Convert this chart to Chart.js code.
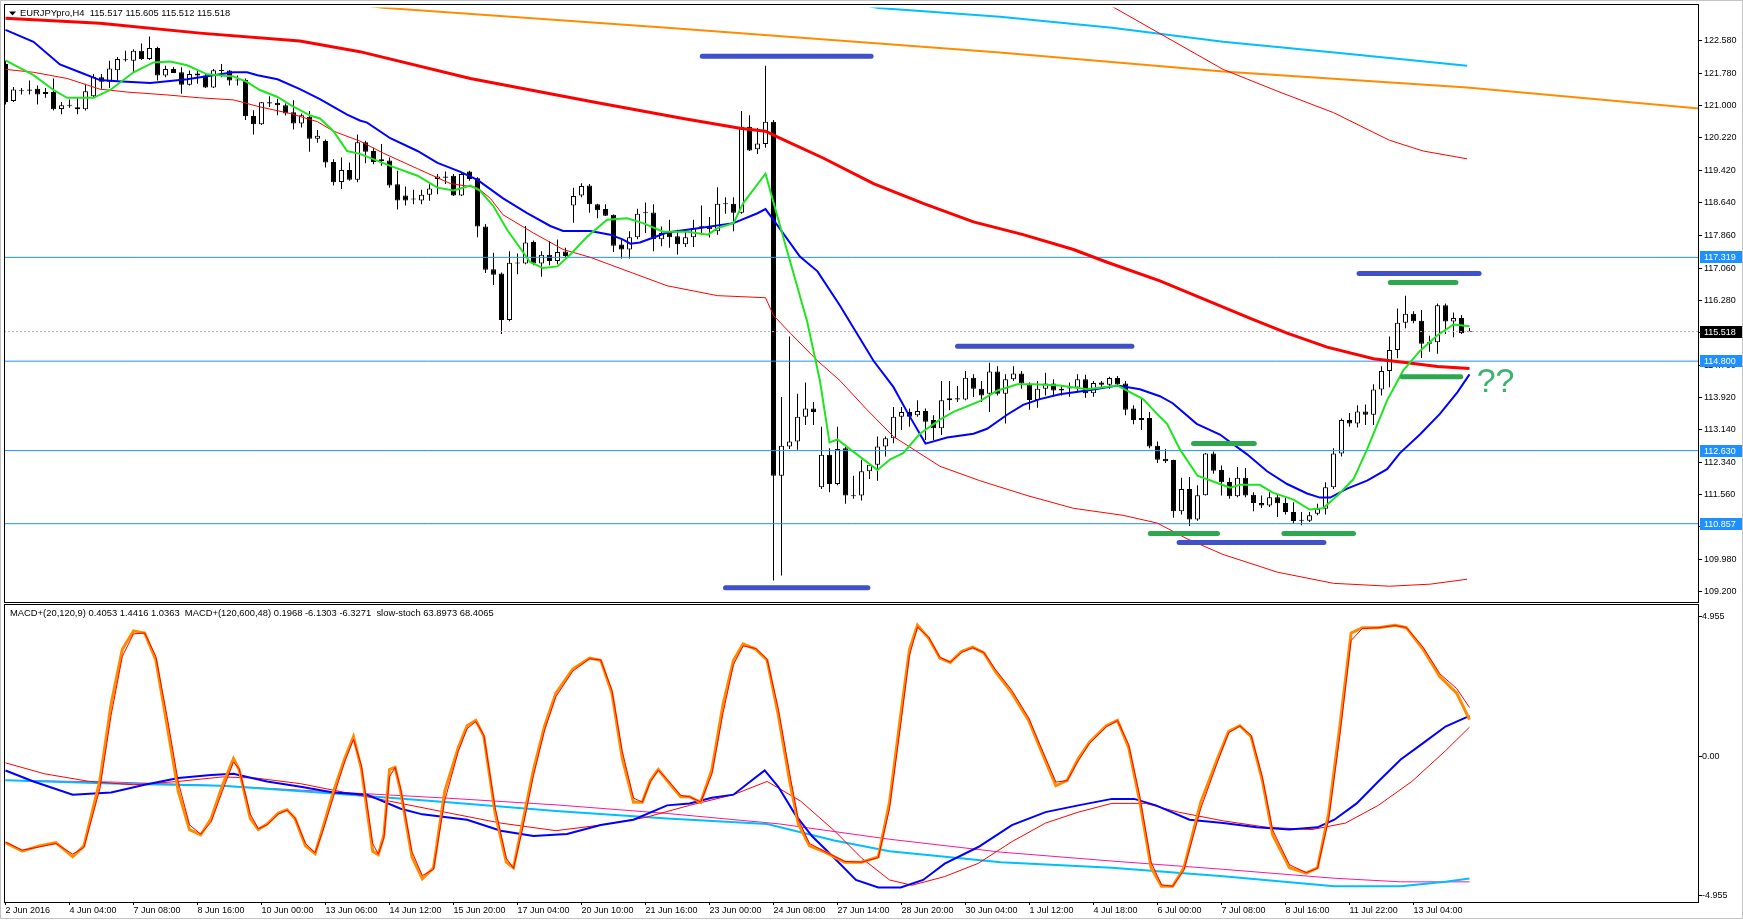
<!DOCTYPE html>
<html>
<head>
<meta charset="utf-8">
<title>EURJPYpro,H4</title>
<script src="https://cdn.jsdelivr.net/npm/chart.js@4.4.1/dist/chart.umd.min.js"></script>
<style>
  html, body { margin: 0; padding: 0; background: #fff; }
  #ventana { position: relative; width: 1743px; height: 922px; overflow: hidden; background: #fff; }
  #grafPrecio { position: absolute; left: 0; top: 0; }
  #grafOsc { position: absolute; left: 0; top: 604px; }
  #marco { position: absolute; left: 0; top: 0; width: 1741px; height: 917px; border: 1px solid #c4c4c4; pointer-events: none; }
</style>
</head>
<body>
<div id="ventana">
  <canvas id="grafPrecio" width="1743" height="604"></canvas>
  <canvas id="grafOsc" width="1743" height="318"></canvas>
  <div id="marco"></div>
</div>
<script>
// Velas H4 de EURJPYpro, índice 0 = 2 Jun 2016 00:00
const aperturas = [
  122.01,121.11,121.35,121.39,121.41,121.28,121.33,120.92,121.01,120.96,
  120.91,121.23,121.69,121.58,121.86,122.10,122.09,122.33,122.13,122.40,
  121.73,121.89,121.81,121.51,121.78,121.73,121.44,121.86,121.85,121.63,
  121.63,120.75,120.55,121.08,121.07,121.01,120.84,120.57,120.73,120.20,
  120.14,119.63,119.15,119.44,119.20,120.11,119.90,119.70,119.67,119.09,
  118.82,118.74,118.70,118.84,119.22,119.25,119.30,118.82,119.40,119.24,
  118.07,117.03,116.93,115.80,117.19,117.17,117.69,117.17,117.38,117.23,
  117.46,118.58,118.82,119.06,118.61,118.49,118.35,117.63,117.51,117.81,
  118.41,118.41,117.76,117.91,117.83,117.64,117.81,118.05,118.07,117.95,
  118.62,118.62,118.40,120.49,119.94,120.07,120.61,112.02,112.73,112.85,
  113.45,113.65,111.74,112.53,111.82,112.69,111.54,111.54,112.13,112.29,
  112.73,112.93,113.45,113.57,113.49,113.59,113.37,113.17,113.85,113.90,
  113.87,114.40,114.13,114.01,114.55,114.01,114.36,114.50,114.24,113.86,
  114.13,114.26,114.09,114.14,114.16,114.36,114.02,114.28,114.23,114.39,
  114.26,113.65,113.37,113.42,112.75,112.43,112.40,111.16,111.70,110.96,
  111.55,112.56,112.16,111.87,111.52,111.97,111.56,111.36,111.30,111.50,
  111.36,111.14,110.94,110.93,111.10,111.22,111.74,112.56,113.37,113.29,
  113.58,113.50,114.11,114.56,115.07,115.73,115.95,115.78,115.26,115.26,
  116.16,115.76,115.85,115.517
];
const maximos = [
  122.09,121.45,121.43,121.61,121.49,121.43,121.66,121.09,121.15,121.20,
  121.53,121.77,121.77,122.09,122.18,122.33,122.37,122.51,122.68,122.43,
  121.97,121.94,121.93,121.85,121.86,121.77,121.89,122.01,121.86,121.73,
  121.66,120.89,121.09,121.23,121.17,121.05,121.13,120.81,120.87,120.41,
  120.18,119.70,119.74,119.62,120.30,120.15,119.98,120.07,119.74,119.42,
  119.04,118.96,118.96,119.09,119.34,119.40,119.34,119.38,119.42,119.26,
  118.13,117.43,116.95,117.47,117.41,118.08,117.73,117.47,117.71,117.75,
  117.55,119.01,119.12,119.10,118.62,118.61,118.36,117.75,117.95,118.50,
  118.65,118.61,118.07,118.23,117.99,117.95,118.23,118.58,118.30,119.02,
  118.78,118.78,120.87,120.77,120.46,121.97,120.65,113.93,115.40,114.01,
  114.28,113.81,113.21,112.69,113.21,112.73,112.02,112.41,112.33,112.97,
  112.97,113.69,113.69,113.65,113.85,113.65,113.49,114.32,114.32,114.20,
  114.56,114.48,114.32,114.76,114.68,114.48,114.68,114.56,114.28,114.32,
  114.52,114.36,114.22,114.28,114.48,114.47,114.32,114.32,114.42,114.44,
  114.32,113.73,113.89,113.57,112.85,112.67,112.41,111.97,111.99,111.79,
  112.57,112.61,112.27,111.97,112.23,112.21,111.62,111.54,111.62,111.58,
  111.50,111.38,111.14,111.14,111.34,111.86,112.69,113.41,113.54,113.73,
  113.75,114.24,114.68,115.40,116.08,116.39,116.01,116.04,115.42,116.20,
  116.20,115.98,115.92,115.605
];
const minimos = [
  121.03,121.09,121.27,121.27,121.03,121.19,120.88,120.79,120.95,120.79,
  120.88,121.21,121.41,121.43,121.61,122.07,121.81,122.11,122.11,121.61,
  121.69,121.79,121.29,121.49,121.53,121.43,121.43,121.69,121.49,121.49,
  120.65,120.30,120.53,120.97,120.77,120.76,120.42,120.47,119.88,120.10,
  119.50,119.06,118.98,119.18,119.14,119.60,119.58,119.54,119.01,118.48,
  118.58,118.61,118.61,118.69,118.85,119.10,118.81,118.81,119.18,117.81,
  116.94,116.65,115.46,115.77,116.91,117.15,117.13,116.85,117.13,117.15,
  117.29,118.16,118.78,118.40,118.27,118.32,117.45,117.29,117.29,117.76,
  117.91,117.47,117.59,117.55,117.39,117.57,117.57,117.87,117.80,117.87,
  118.38,117.95,118.38,119.90,119.83,119.98,109.48,109.60,112.67,112.65,
  113.25,113.25,111.70,111.62,111.79,111.34,111.46,111.42,111.94,111.90,
  112.49,112.81,113.13,113.21,113.45,112.89,112.89,113.01,113.61,113.81,
  113.85,113.93,113.81,113.57,113.97,113.29,114.32,114.13,113.62,113.67,
  113.97,113.97,113.97,113.94,114.05,113.91,113.94,114.16,114.13,114.20,
  113.49,113.27,113.13,112.69,112.33,112.33,111.00,111.08,110.80,110.93,
  111.54,112.07,111.54,111.46,111.50,111.50,111.16,111.24,111.26,111.02,
  111.08,110.86,110.82,110.90,111.06,111.08,111.70,112.49,113.21,113.19,
  113.25,113.25,113.97,114.17,114.87,115.60,115.72,114.88,115.03,114.98,
  115.46,115.38,115.46,115.512
];
const cierres = [
  121.09,121.39,121.36,121.36,121.27,121.33,120.91,121.01,121.00,120.91,
  121.35,121.70,121.58,121.90,122.13,122.11,122.33,122.13,122.40,121.73,
  121.89,121.79,121.51,121.77,121.73,121.44,121.86,121.84,121.61,121.61,
  120.74,120.55,121.08,121.05,121.01,120.81,120.57,120.77,120.20,120.27,
  119.62,119.14,119.44,119.20,120.11,119.88,119.63,119.66,119.06,118.70,
  118.70,118.72,118.84,118.99,119.28,119.28,118.82,119.34,119.22,118.07,
  117.02,116.90,115.80,117.19,117.17,117.68,117.17,117.38,117.23,117.45,
  117.35,118.81,119.05,118.61,118.46,118.33,117.60,117.51,117.81,118.38,
  118.39,117.76,117.91,117.81,117.64,117.81,118.03,118.07,118.00,118.62,
  118.61,118.40,120.49,119.91,120.08,120.61,112.02,112.75,112.85,113.45,
  113.65,113.57,112.53,111.82,112.67,111.54,111.52,112.13,112.29,112.73,
  112.93,113.45,113.57,113.45,113.59,113.33,113.17,113.85,113.90,113.87,
  114.40,114.13,113.97,114.55,114.01,114.36,114.50,114.26,113.86,114.13,
  114.26,114.09,114.13,114.16,114.36,114.02,114.27,114.23,114.39,114.24,
  113.62,113.37,113.42,112.73,112.41,112.37,111.16,111.70,110.96,111.55,
  112.56,112.14,111.86,111.52,111.97,111.54,111.36,111.30,111.50,111.35,
  111.14,110.92,110.93,111.06,111.22,111.74,112.56,113.37,113.29,113.58,
  113.50,114.11,114.56,115.07,115.73,115.95,115.77,115.22,115.22,116.16,
  115.76,115.85,115.48,115.518
];

// Medias móviles (posición en barras y precio)
const mmVerdeBarra = [0,3.5,6,7.7,11,13.1,16,18.5,20.6,22.7,25.2,28.5,30.2,31.8,34,35.6,38.1,39.3,41,42.7,44.3,48.1,51.5,54,56,58.1,59.3,61,62.7,65.6,67.2,69,70.6,72.7,75.2,77.7,79.7,82.2,85.2,87.8,89,91,92.2,95,97.2,100.2,101.8,103,104,105.6,109,110.6,112.2,114.3,116.8,118.5,121.8,124,126.5,128.5,131.8,135.2,139,142.2,144.3,145.2,146.8,149,151.8,153.1,154.3,156.8,158.4,161,163,164.7,166.5,168.5,170.2,172.7,174.7,176.8,179,181,183];
const mmVerdeValor = [122.10,121.74,121.38,121.19,121.19,121.38,121.81,122.05,122.07,121.98,121.76,121.71,121.57,121.38,121.21,121.02,120.76,120.69,120.38,119.90,119.83,119.54,119.30,119.01,118.94,119.06,118.94,118.56,117.99,117.20,117.06,117.10,117.39,117.82,118.23,118.27,118.15,117.94,117.94,117.87,118.03,118.15,118.63,119.35,117.82,115.77,114.33,112.83,112.90,112.66,112.16,112.42,112.57,113.04,113.38,113.57,113.83,114.09,114.24,114.24,114.21,114.12,114.21,113.88,113.45,113.28,112.66,112.02,111.82,111.73,111.80,111.80,111.61,111.44,111.20,111.23,111.54,111.94,112.66,113.85,114.57,115.05,115.43,115.69,115.65];
const mmAzulBarra = [0,3.5,6.8,9.3,11.8,14,18.1,22.7,26,28.5,30.2,31.5,34,36.8,39.3,41,42.7,44.3,45.2,48.1,51.5,54,56.8,59,62.2,65.2,68.1,69.7,73.1,75.6,77.2,78.1,79.3,82.7,86.8,91,94,95,96,99.3,101.5,104.3,108.5,111,112.7,115,117.7,121,122.7,125.2,127.2,129.3,131.8,135.2,139,141.8,144.3,145.9,148.9,151.8,155.2,157.7,160.2,162.7,164.3,165.6,167.7,170.2,172.7,174.3,176.8,179.3,181.5,183];
const mmAzulValor = [122.84,122.55,122.00,121.81,121.62,121.59,121.55,121.64,121.74,121.81,121.81,121.74,121.64,121.40,121.16,120.97,120.78,120.64,120.59,120.21,119.90,119.61,119.40,119.20,118.75,118.39,118.08,117.96,117.96,117.87,117.75,117.65,117.68,117.92,118.03,118.15,118.39,118.49,118.23,117.34,116.98,116.15,114.81,114.17,113.57,112.80,112.95,113.04,113.16,113.50,113.74,113.88,114.00,114.09,114.21,114.12,113.95,113.78,113.28,113.02,112.54,112.13,111.82,111.59,111.49,111.49,111.71,111.90,112.18,112.57,113.02,113.52,114.05,114.48];
const mmRojaBarra = [0,11.8,24.3,36.8,44.3,58.1,73.5,84.7,91.8,95,96.8,102.2,108.5,114.7,121,127.2,133.5,137.7,144.3,155.6,160.2,165.2,171,175.2,179,183];
const mmRojaValor = [123.12,123.00,122.76,122.57,122.31,121.66,121.09,120.69,120.45,120.38,120.21,119.73,119.11,118.63,118.18,117.87,117.51,117.20,116.75,115.84,115.48,115.14,114.86,114.76,114.67,114.62];
const bandaInfBarra = [0,3.5,7.7,11.8,15.2,20.2,24.3,28.5,31.8,35.6,39,41,44.3,47.2,51.5,55.6,59,60.6,62.2,66,69.7,73.1,78.1,82.7,89,95,96,98.1,101.5,104.3,107.7,111,116.8,121.8,127.7,133.5,139.7,144,147.7,152.2,159,166,173,178.1,182.7];
const bandaInfValor = [121.88,121.81,121.66,121.40,121.33,121.26,121.19,121.14,120.97,120.81,120.61,120.38,120.14,119.85,119.47,119.11,119.01,118.75,118.35,117.91,117.51,117.32,116.96,116.63,116.39,116.34,115.91,115.48,114.81,114.33,113.62,112.97,112.25,111.90,111.54,111.23,111.06,110.87,110.49,110.11,109.68,109.41,109.34,109.39,109.51];
const bandaSupBarra = [135.6,138.3,152.2,159,166,173,177.2,182.7];
const bandaSupValor = [123.72,123.41,121.88,121.35,120.83,120.16,119.90,119.71];
const naranjaBarra = [44,47.2,82.7,124.3,152.2,182.7,211.7];
const naranjaValor = [123.45,123.375,122.89,122.29,121.83,121.44,120.93];
const celesteBarra = [107,109.1,124.3,138.3,152.2,166.1,182.7];
const celesteValor = [123.45,123.37,123.16,122.89,122.55,122.29,121.97];

// Niveles horizontales y precio actual
const niveles = [117.319, 114.800, 112.630, 110.857];
const precioBid = 115.518;

// Zonas dibujadas a mano (desde barra, hasta barra, precio)
const zonaAzulDesde = [87.1, 90.0, 119.0, 146.7, 169.2];
const zonaAzulHasta = [108.2, 107.8, 140.8, 164.8, 184.2];
const zonaAzulPrecio = [122.20, 109.30, 115.16, 110.40, 116.93];
const zonaVerdeDesde = [148.5, 143.1, 159.8, 174.6, 173.1];
const zonaVerdeHasta = [156.1, 151.5, 168.5, 181.9, 181.3];
const zonaVerdePrecio = [112.80, 110.62, 110.62, 114.42, 116.71];
const notaTexto = '??';
const notaBarra = 183.9;
const notaPrecio = 114.05;

// Ejes
const preciosEje = [122.58,121.78,121.00,120.22,119.42,118.64,117.86,117.06,116.28,115.50,114.70,113.92,113.14,112.34,111.56,110.78,109.98,109.20];
const barrasEtiqueta = [0,8,16,24,32,40,48,56,64,72,80,88,96,104,112,120,128,136,144,152,160,168,176];
const etiquetasFecha = ['2 Jun 2016','4 Jun 04:00','7 Jun 08:00','8 Jun 16:00','10 Jun 00:00','13 Jun 06:00','14 Jun 12:00','15 Jun 20:00','17 Jun 04:00','20 Jun 10:00','21 Jun 16:00','23 Jun 00:00','24 Jun 08:00','27 Jun 14:00','28 Jun 20:00','30 Jun 04:00','1 Jul 12:00','4 Jul 18:00','6 Jul 00:00','7 Jul 08:00','8 Jul 16:00','11 Jul 22:00','13 Jul 04:00'];
const ticksOsc = [4.955, 0, -4.955];

// Osciladores
const stochBarra = [0,2.1,4.2,6.3,8.4,9.8,11.8,13.2,14.6,16.0,17.4,18.8,20.2,21.6,23.0,24.4,25.7,27.1,28.5,29.2,30.6,31.6,32.7,34.1,35.2,36.2,37.5,38.7,39.6,41.0,42.4,43.5,44.5,45.9,46.6,47.3,48.0,48.7,49.4,50.8,52.1,53.5,54.9,56.6,57.7,58.8,59.8,61.2,62.6,63.5,64.6,66.0,67.4,68.8,70.9,73.0,74.4,75.8,77.1,78.5,79.6,80.6,81.6,82.7,84.4,85.5,86.9,88.3,89.7,91.0,92.2,93.8,95.2,96.6,98.0,99.1,100.5,102.2,104.9,107.0,109.1,110.5,111.9,113.0,114.0,115.4,116.8,118.1,119.5,120.9,122.3,123.7,125.8,127.9,129.3,131.3,132.7,134.1,135.5,137.6,139.0,140.4,141.8,143.2,144.5,145.9,147.3,149.4,151.5,152.9,154.3,155.7,157.1,158.4,160.5,162.6,164.0,165.4,166.8,168.2,169.6,171.6,173.7,175.1,177.2,179.3,181.4,183.0];
const stochPrincipal = [17.8,14.6,16.6,17.8,12.5,16.6,41.1,69.7,90.2,97.1,96.3,86.1,61.6,37.0,22.7,20.7,26.8,39.1,49.3,45.2,26.8,22.7,24.8,28.9,30.1,26.8,16.6,13.7,22.7,37.0,49.3,57.5,45.2,14.6,13.3,20.7,45.2,46.0,37.0,12.5,4.3,8.4,37.0,53.4,61.6,63.6,57.5,28.9,10.5,8.4,24.8,45.2,61.6,73.8,82.8,86.9,86.1,73.8,49.3,32.9,32.9,41.1,45.2,41.1,35.0,35.0,32.9,45.2,69.7,86.1,92.2,90.2,86.1,65.6,41.1,24.8,16.6,14.6,10.5,10.5,12.5,32.9,65.6,90.2,99.2,94.3,86.9,85.3,89.4,91.0,88.9,82.0,73.8,63.6,53.4,39.1,41.1,49.3,55.4,61.6,63.6,53.4,32.9,8.4,1.5,1.5,8.4,32.9,49.3,59.5,61.6,57.5,41.1,20.7,8.4,6.4,8.4,28.9,61.6,96.3,98.3,98.3,99.2,98.3,90.2,79.9,73.8,63.9];
const stochSenal = [18.0,15.0,16.2,17.5,13.5,16.0,38.0,65.5,87.5,96.0,96.3,87.5,65.0,40.5,24.5,21.0,25.5,37.0,48.0,45.5,28.5,23.0,24.5,28.5,30.0,27.0,17.5,14.0,21.5,35.0,48.0,56.5,46.5,17.5,13.5,19.5,42.5,46.0,38.0,14.5,5.5,7.8,33.5,52.0,60.5,63.2,58.0,31.0,12.0,8.2,22.5,43.0,60.0,72.5,82.0,86.7,86.2,75.0,52.0,34.5,33.0,40.5,45.0,41.5,35.5,35.0,33.0,43.5,66.5,84.5,91.5,90.5,86.5,68.0,44.0,26.5,17.5,14.8,10.8,10.5,12.2,30.5,62.0,88.0,98.5,94.8,87.2,85.4,89.0,90.8,89.0,82.8,74.8,64.5,54.5,40.5,41.0,48.5,55.0,61.2,63.5,54.5,35.0,10.5,2.0,1.5,7.5,30.5,48.0,59.0,61.5,58.0,42.5,22.5,9.5,6.6,8.2,26.5,58.0,93.5,98.0,98.3,99.1,98.4,91.0,81.0,75.5,68.4];
const macdBarra = [0,3.5,8.4,13.2,17.4,21.6,25.7,28.5,32.7,36.9,41.0,45.2,49.4,52.1,57.7,61.9,66.0,70.2,74.4,78.5,82.7,85.5,88.3,91.0,93.1,94.9,96.6,98.7,100.8,103.6,106.3,109.1,111.9,114.7,117.4,121.6,125.8,130.0,134.1,138.3,141.1,143.8,148.0,152.2,156.4,160.5,164.0,166.1,168.9,171.6,174.4,177.2,180.0,183.0];
const macdPrincipal = [-0.50,-0.89,-1.36,-1.28,-1.01,-0.77,-0.66,-0.62,-0.89,-1.08,-1.28,-1.36,-1.86,-2.06,-2.25,-2.64,-2.83,-2.76,-2.44,-2.25,-1.74,-1.67,-1.47,-1.36,-0.89,-0.50,-1.08,-2.06,-2.83,-3.61,-4.39,-4.66,-4.66,-4.39,-3.81,-3.22,-2.44,-1.98,-1.74,-1.51,-1.51,-1.74,-2.25,-2.37,-2.52,-2.60,-2.52,-2.25,-1.67,-0.89,-0.11,0.47,1.06,1.44];
const macdSenalBarra = [0,4.9,10.5,16.0,21.6,27.1,31.3,36.9,42.4,48.0,54.9,61.9,68.8,74.4,80.0,85.5,91.0,95.2,99.4,103.6,107.0,110.5,113.3,117.4,121.6,125.8,130.0,134.1,138.3,142.5,146.6,152.2,157.7,163.3,167.5,171.6,175.8,180.0,183.0];
const macdSenal = [-0.23,-0.62,-0.89,-1.01,-0.89,-0.73,-0.77,-0.97,-1.28,-1.59,-1.98,-2.37,-2.64,-2.44,-2.17,-1.74,-1.36,-0.89,-1.59,-2.64,-3.61,-4.39,-4.58,-4.27,-3.80,-3.03,-2.37,-1.98,-1.67,-1.67,-1.98,-2.29,-2.52,-2.60,-2.37,-1.74,-0.89,0.20,1.04];
const largoBarra = [0,13.2,27.1,41.0,54.9,68.8,82.7,95.2,103.6,110.5,124.4,138.3,152.2,166.1,174.4,180.0,183.0];
const largoPrincipal = [-0.42,-0.61,-0.74,-1.19,-1.69,-2.20,-2.65,-2.96,-3.92,-4.55,-5.19,-5.51,-6.01,-6.59,-6.59,-6.33,-6.13];
const largoSenalBarra = [0,13.2,27.1,41.0,54.9,68.8,82.7,96.6,110.5,124.4,138.3,152.2,166.1,174.4,183.0];
const largoSenal = [-0.42,-0.52,-0.74,-1.10,-1.45,-1.85,-2.35,-2.95,-3.85,-4.60,-5.12,-5.60,-6.12,-6.33,-6.33];

const tituloPrecio = 'EURJPYpro,H4  115.517 115.605 115.512 115.518';
const tituloOsc = 'MACD+(20,120,9) 0.4053 1.4416 1.0363  MACD+(120,600,48) 0.1968 -6.1303 -6.3271  slow-stoch 63.8973 68.4065';

// Rango horizontal común (barra 0 centrada en x = 5.5, 8 px por barra)
const X_MIN = -0.1875;
const X_MAX = 211.6875;

Chart.defaults.font.family = "'Liberation Sans', Arial, sans-serif";
Chart.defaults.font.size = 9;
Chart.defaults.color = '#000';

// Función para armar puntos {x, y}
function serie(xs, ys) {
    return xs.map((x, k) => ({ x: x, y: ys[k] }));
}

// Función para una línea sin puntos
function linea(datos, color, ancho, orden, eje, extra) {
    return Object.assign({
        type: 'line', data: datos, borderColor: color, borderWidth: ancho,
        pointRadius: 0, pointHoverRadius: 0, pointHitRadius: 0,
        fill: false, tension: 0, order: orden, yAxisID: eje || 'y'
    }, extra || {});
}

const indices = aperturas.map((_, i) => i);
const cuerpos = indices.map(i => ({ x: i, y: [aperturas[i], cierres[i]] }));
const mechas = indices.map(i => ({ x: i, y: [minimos[i], maximos[i]] }));
const coloresCuerpo = indices.map(i => (cierres[i] - aperturas[i] > 0.02 ? '#ffffff' : '#000000'));

const datasetsPrecio = [
    { type: 'bar', data: mechas, backgroundColor: '#000', borderWidth: 0, barThickness: 1,
      grouped: false, inflateAmount: 0, minBarLength: 1, order: 30 },
    { type: 'bar', data: cuerpos, backgroundColor: coloresCuerpo, borderColor: '#000', borderWidth: 1,
      borderSkipped: false, barThickness: 5, grouped: false, inflateAmount: 0, minBarLength: 1, order: 29 }
];

niveles.forEach(v => {
    datasetsPrecio.push(linea(serie([X_MIN, X_MAX], [v, v]), '#1E90FF', 1, 20));
});
datasetsPrecio.push(linea(serie([X_MIN, X_MAX], [precioBid, precioBid]), '#c4a4c4', 1, 21, 'y', { borderDash: [2, 2] }));

datasetsPrecio.push(linea(serie(naranjaBarra, naranjaValor), '#FF8C00', 2, 9));
datasetsPrecio.push(linea(serie(celesteBarra, celesteValor), '#00BFFF', 2, 9));
datasetsPrecio.push(linea(serie(bandaInfBarra, bandaInfValor), '#FF0000', 1, 8));
datasetsPrecio.push(linea(serie(bandaSupBarra, bandaSupValor), '#FF0000', 1, 8));
datasetsPrecio.push(linea(serie(mmRojaBarra, mmRojaValor), '#FF0000', 3, 7));
datasetsPrecio.push(linea(serie(mmAzulBarra, mmAzulValor), '#0000FF', 2, 6));
datasetsPrecio.push(linea(serie(mmVerdeBarra, mmVerdeValor), '#1EE61E', 2, 5));

zonaAzulDesde.forEach((d, k) => {
    datasetsPrecio.push(linea(serie([d, zonaAzulHasta[k]], [zonaAzulPrecio[k], zonaAzulPrecio[k]]), '#3f50c8', 5, 2, 'y', { borderCapStyle: 'round' }));
});
zonaVerdeDesde.forEach((d, k) => {
    datasetsPrecio.push(linea(serie([d, zonaVerdeHasta[k]], [zonaVerdePrecio[k], zonaVerdePrecio[k]]), '#2ea84f', 5, 1, 'y', { borderCapStyle: 'round' }));
});

// Marco, título, etiquetas de niveles y nota
const extrasPrecio = {
    id: 'extrasPrecio',
    afterDraw(chart) {
        const ctx = chart.ctx;
        const sx = chart.scales.x, sy = chart.scales.y;
        ctx.save();
        ctx.strokeStyle = '#000';
        ctx.lineWidth = 1;
        ctx.strokeRect(4.5, 4.5, 1694, 598);

        ctx.fillStyle = '#000';
        ctx.beginPath();
        ctx.moveTo(9, 11.5); ctx.lineTo(16, 11.5); ctx.lineTo(12.5, 15.5); ctx.closePath();
        ctx.fill();
        ctx.font = "9.4px 'Liberation Sans', Arial, sans-serif";
        ctx.textBaseline = 'middle';
        ctx.textAlign = 'left';
        ctx.fillText(tituloPrecio, 20, 13.5);

        ctx.font = "9px 'Liberation Sans', Arial, sans-serif";
        niveles.forEach(v => {
            const y = Math.round(sy.getPixelForValue(v));
            ctx.fillStyle = '#1E90FF';
            ctx.fillRect(1700, y - 6, 42, 12);
            ctx.fillStyle = '#fff';
            ctx.fillText(v.toFixed(3), 1704, y + 0.5);
        });
        const yb = Math.round(sy.getPixelForValue(precioBid));
        ctx.fillStyle = '#000';
        ctx.fillRect(1700, yb - 6, 42, 12);
        ctx.fillStyle = '#fff';
        ctx.fillText(precioBid.toFixed(3), 1704, yb + 0.5);

        ctx.fillStyle = '#3CB371';
        ctx.font = "34px 'Liberation Sans', Arial, sans-serif";
        ctx.textBaseline = 'alphabetic';
        ctx.fillText(notaTexto, sx.getPixelForValue(notaBarra), sy.getPixelForValue(notaPrecio));
        ctx.restore();
    }
};

new Chart(document.getElementById('grafPrecio'), {
    type: 'line',
    data: { datasets: datasetsPrecio },
    options: {
        responsive: false, animation: false, devicePixelRatio: 1, events: [],
        layout: { padding: { left: 4, top: 4, right: 0, bottom: 1 } },
        plugins: { legend: { display: false }, tooltip: { enabled: false } },
        scales: {
            x: { type: 'linear', min: X_MIN, max: X_MAX, offset: false, display: false, grid: { offset: false } },
            y: {
                type: 'linear', position: 'right', min: 109.088, max: 123.384, beginAtZero: false,
                afterBuildTicks: s => { s.ticks = preciosEje.map(v => ({ value: v })); },
                afterFit: s => { s.width = 44; },
                ticks: { autoSkip: false, padding: 2, color: '#000', callback: v => Number(v).toFixed(3) },
                grid: { drawOnChartArea: false, tickLength: 3, color: '#000' },
                border: { display: false }
            }
        }
    },
    plugins: [extrasPrecio]
});

// Panel inferior: MACD corto, MACD largo y estocástico lento
const datasetsOsc = [
    linea(serie(largoSenalBarra, largoSenal), '#FF1493', 1, 9, 'yLargo'),
    linea(serie(largoBarra, largoPrincipal), '#00BFFF', 2, 8, 'yLargo'),
    linea(serie(macdSenalBarra, macdSenal), '#FF0000', 1, 6, 'y'),
    linea(serie(macdBarra, macdPrincipal), '#0000FF', 2, 5, 'y'),
    linea(serie(stochBarra, stochPrincipal), '#FF8C00', 3, 3, 'yStoch'),
    linea(serie(stochBarra, stochSenal), '#FF0000', 1, 2, 'yStoch')
];

const extrasOsc = {
    id: 'extrasOsc',
    afterDraw(chart) {
        const ctx = chart.ctx;
        ctx.save();
        ctx.strokeStyle = '#000';
        ctx.lineWidth = 1;
        ctx.strokeRect(4.5, 0.5, 1694, 298);
        ctx.fillStyle = '#000';
        ctx.font = "9.4px 'Liberation Sans', Arial, sans-serif";
        ctx.textBaseline = 'middle';
        ctx.textAlign = 'left';
        ctx.fillText(tituloOsc, 10, 9.5);
        ctx.restore();
    }
};

new Chart(document.getElementById('grafOsc'), {
    type: 'line',
    data: { datasets: datasetsOsc },
    options: {
        responsive: false, animation: false, devicePixelRatio: 1, events: [],
        layout: { padding: { left: 4, top: 0, right: 0, bottom: 0 } },
        plugins: { legend: { display: false }, tooltip: { enabled: false } },
        scales: {
            x: {
                type: 'linear', min: X_MIN, max: X_MAX, offset: false, position: 'bottom',
                afterBuildTicks: s => { s.ticks = barrasEtiqueta.map(v => ({ value: v })); },
                afterFit: s => { s.height = 20; },
                ticks: { autoSkip: false, maxRotation: 0, minRotation: 0, align: 'start', padding: 0, color: '#000',
                         callback: (v, i) => etiquetasFecha[i] },
                grid: { drawOnChartArea: false, tickLength: 3, color: '#000', offset: false },
                border: { display: false }
            },
            y: {
                type: 'linear', position: 'right', min: -5.174, max: 5.223,
                afterBuildTicks: s => { s.ticks = ticksOsc.map(v => ({ value: v })); },
                afterFit: s => { s.width = 44; },
                ticks: { autoSkip: false, padding: 0, color: '#000', callback: v => (v === 0 ? '0.00' : Number(v).toFixed(3)) },
                grid: { drawOnChartArea: false, tickLength: 3, color: '#000' },
                border: { display: false }
            },
            yStoch: { type: 'linear', display: false, min: -4.41, max: 105.15 },
            yLargo: { type: 'linear', display: false, min: -7.503, max: 9.526 }
        }
    },
    plugins: [extrasOsc]
});
</script>
</body>
</html>
